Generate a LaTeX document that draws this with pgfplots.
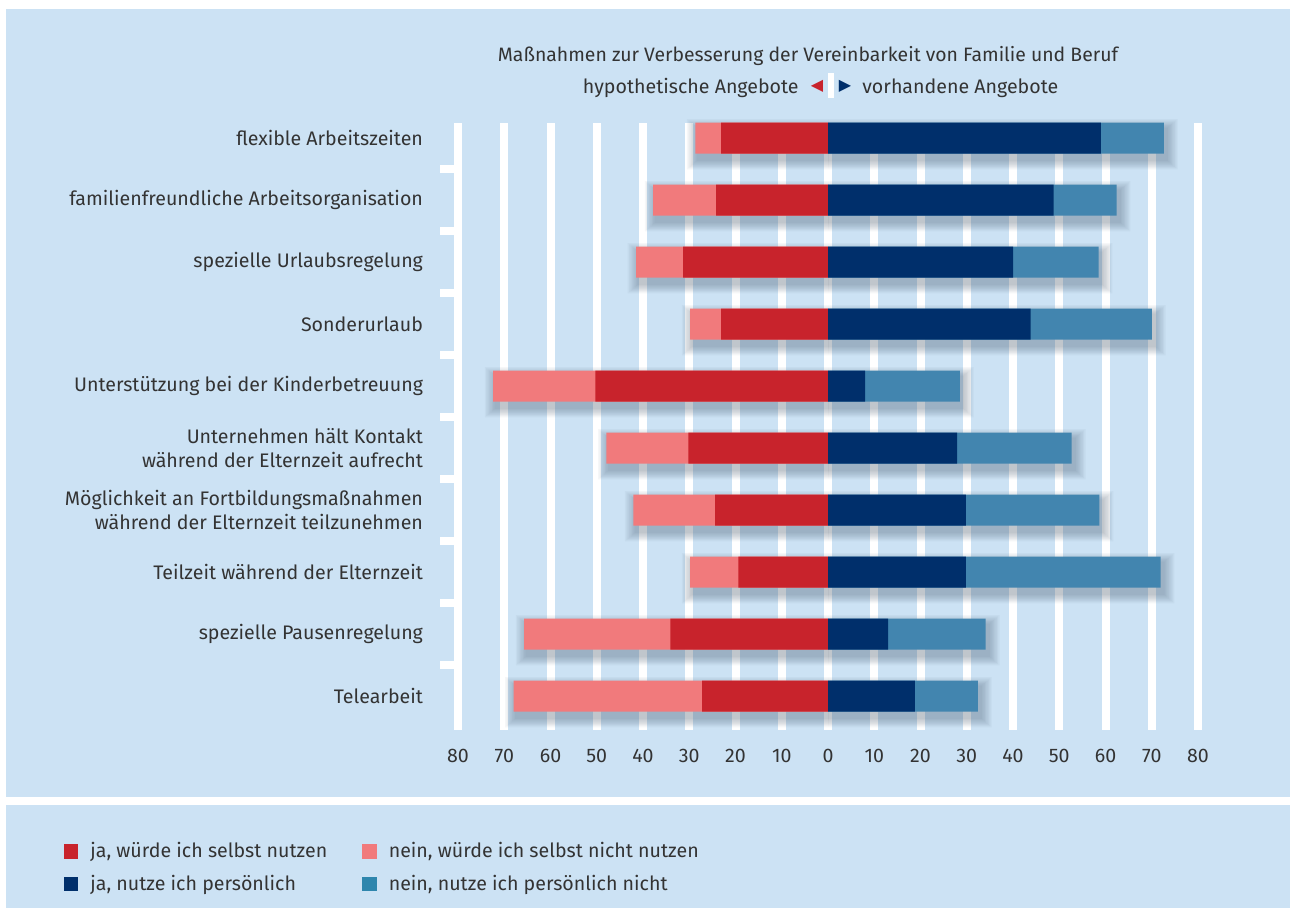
\documentclass[border=0pt]{standalone}
\usepackage{pgfplots}
\pgfplotsset{compat=1.18}
\usepackage{pgfplotstable}
\usepackage{fontspec}
\setmainfont{Fira Sans}
\newfontfamily\symfont{DejaVu Sans}
\definecolor{bg}{HTML}{CCE2F4}
\definecolor{cred}{HTML}{C8232C}
\definecolor{clred}{HTML}{F17A7C}
\definecolor{cdblue}{HTML}{002F6B}
\definecolor{clblue}{HTML}{4285AF}
\definecolor{clbleg}{HTML}{2E86AD}
\definecolor{txt}{HTML}{333333}
\definecolor{shad}{HTML}{34485E}
\newcommand{\fs}{\fontsize{9.8}{11.6}\selectfont}

\pgfplotstableread{
idx r lr d lb
0 23.1 5.6 59.0 13.6
1 24.2 13.6 48.8 13.6
2 31.3 10.2 40.0 18.5
3 23.1 6.7 43.8 26.2
4 50.3 22.1 8.0 20.5
5 30.2 17.7 27.9 24.8
6 24.4 17.7 29.8 28.9
7 19.4 10.4 29.8 42.1
8 34.1 31.6 13.0 21.1
9 27.2 40.8 18.8 13.6
}\datatable

\begin{document}
\begin{tikzpicture}
\fill[white] (0pt,0pt) rectangle (645pt,-459pt);
\fill[bg] (3pt,-4.5pt) rectangle (645pt,-398.5pt);
\fill[bg] (3pt,-402.5pt) rectangle (645pt,-454pt);
\node[anchor=base, inner sep=0pt, text=txt, font=\fontsize{9.7}{11.6}\selectfont] at (404pt,-30.5pt) {Maßnahmen zur Verbesserung der Vereinbarkeit von Familie und Beruf};
\node[anchor=base east, inner sep=0pt, text=txt, font=\fs] at (399.5pt,-46.5pt) {hypothetische Angebote};
\node[inner sep=0pt, text=cred, font=\symfont\fontsize{8}{8}\selectfont] at (408.5pt,-43pt) {◀};
\fill[white] (414pt,-36.5pt) rectangle (417pt,-49pt);
\node[inner sep=0pt, text=cdblue, font=\symfont\fontsize{8}{8}\selectfont] at (422.5pt,-43pt) {▶};
\node[anchor=base west, inner sep=0pt, text=txt, font=\fs] at (431pt,-46.5pt) {vorhandene Angebote};

\begin{axis}[
  at={(229pt,-365pt)}, anchor=south west,
  scale only axis, width=370pt, height=303.5pt,
  xmin=-80, xmax=80, ymin=-0.242, ymax=9.548, y dir=reverse,
  clip=false,
  xbar, bar width=15.5pt, bar shift=0pt,
  axis line style={draw=none},
  xtick={-80,-70,...,80},
  xticklabels={80,70,60,50,40,30,20,10,0,10,20,30,40,50,60,70,80},
  xtick pos=bottom, ytick pos=left,
  xmajorgrids, grid style={white, line width=4pt},
  xtick style={draw=none},
  ytick={0,...,9},
  minor ytick={0.5,1.5,...,8.5},
  yticklabels={{flexible Arbeitszeiten},{familienfreundliche Arbeitsorganisation},{spezielle Urlaubsregelung},{Sonderurlaub},{Unterstützung bei der Kinderbetreuung},{Unternehmen hält Kontakt\\während der Elternzeit aufrecht},{Möglichkeit an Fortbildungsmaßnahmen\\während der Elternzeit teilzunehmen},{Teilzeit während der Elternzeit},{spezielle Pausenregelung},{Telearbeit}},
  ytick style={draw=white, line width=4pt},
  tick align=outside,
  major tick length=0pt,
  minor tick length=9pt,
  tick label style={font=\fs, text=txt},
  yticklabel style={align=right, xshift=-14pt},
  xticklabel style={yshift=-6pt},
  legend image code/.code={\fill[#1] (0pt,-3.6pt) rectangle (7.2pt,3.6pt);},
  legend columns=2,
  legend style={at={(axis description cs:-0.533,-0.178)}, anchor=north west, draw=none, fill=none, font=\fs, text=txt, inner sep=0pt, row sep=3pt},
  legend cell align=left,
  sh/.style={fill=shad, fill opacity=0.042, draw=none, forget plot},
]
% soft shadows, built from the bar totals
\addplot[sh, bar width=16.7pt] table[x expr={\thisrow{d}+\thisrow{lb}+0.6+0.3}, y expr={\thisrow{idx}+0.1}] {\datatable};
\addplot[sh, bar width=16.7pt] table[x expr={-(\thisrow{r}+\thisrow{lr})+0.6-0.3}, y expr={\thisrow{idx}+0.1}] {\datatable};
\addplot[sh, bar width=17.9pt] table[x expr={\thisrow{d}+\thisrow{lb}+0.6+0.6}, y expr={\thisrow{idx}+0.1}] {\datatable};
\addplot[sh, bar width=17.9pt] table[x expr={-(\thisrow{r}+\thisrow{lr})+0.6-0.6}, y expr={\thisrow{idx}+0.1}] {\datatable};
\addplot[sh, bar width=19.1pt] table[x expr={\thisrow{d}+\thisrow{lb}+0.6+0.9}, y expr={\thisrow{idx}+0.1}] {\datatable};
\addplot[sh, bar width=19.1pt] table[x expr={-(\thisrow{r}+\thisrow{lr})+0.6-0.9}, y expr={\thisrow{idx}+0.1}] {\datatable};
\addplot[sh, bar width=20.3pt] table[x expr={\thisrow{d}+\thisrow{lb}+0.6+1.2}, y expr={\thisrow{idx}+0.1}] {\datatable};
\addplot[sh, bar width=20.3pt] table[x expr={-(\thisrow{r}+\thisrow{lr})+0.6-1.2}, y expr={\thisrow{idx}+0.1}] {\datatable};
\addplot[sh, bar width=21.5pt] table[x expr={\thisrow{d}+\thisrow{lb}+0.6+1.5}, y expr={\thisrow{idx}+0.1}] {\datatable};
\addplot[sh, bar width=21.5pt] table[x expr={-(\thisrow{r}+\thisrow{lr})+0.6-1.5}, y expr={\thisrow{idx}+0.1}] {\datatable};
\addplot[sh, bar width=22.7pt] table[x expr={\thisrow{d}+\thisrow{lb}+0.6+1.8}, y expr={\thisrow{idx}+0.1}] {\datatable};
\addplot[sh, bar width=22.7pt] table[x expr={-(\thisrow{r}+\thisrow{lr})+0.6-1.8}, y expr={\thisrow{idx}+0.1}] {\datatable};
\addplot[sh, bar width=23.9pt] table[x expr={\thisrow{d}+\thisrow{lb}+0.6+2.1}, y expr={\thisrow{idx}+0.1}] {\datatable};
\addplot[sh, bar width=23.9pt] table[x expr={-(\thisrow{r}+\thisrow{lr})+0.6-2.1}, y expr={\thisrow{idx}+0.1}] {\datatable};
\addplot[sh, bar width=25.1pt] table[x expr={\thisrow{d}+\thisrow{lb}+0.6+2.4}, y expr={\thisrow{idx}+0.1}] {\datatable};
\addplot[sh, bar width=25.1pt] table[x expr={-(\thisrow{r}+\thisrow{lr})+0.6-2.4}, y expr={\thisrow{idx}+0.1}] {\datatable};
% bars
\addplot[fill=clred, draw=none, forget plot] table[x expr={-(\thisrow{r}+\thisrow{lr})}, y=idx] {\datatable};
\addplot[fill=clblue, draw=none, forget plot] table[x expr={\thisrow{d}+\thisrow{lb}}, y=idx] {\datatable};
\addplot[fill=cred, draw=none, forget plot] table[x expr={-\thisrow{r}}, y=idx] {\datatable};
\addplot[fill=cdblue, draw=none, forget plot] table[x=d, y=idx] {\datatable};
\addlegendimage{fill=cred, draw=none}
\addlegendentry{\hspace{4pt}\makebox[134pt][l]{ja, würde ich selbst nutzen}}
\addlegendimage{fill=clred, draw=none}
\addlegendentry{\hspace{4pt}nein, würde ich selbst nicht nutzen}
\addlegendimage{fill=cdblue, draw=none}
\addlegendentry{\hspace{4pt}\makebox[134pt][l]{ja, nutze ich persönlich}}
\addlegendimage{fill=clbleg, draw=none}
\addlegendentry{\hspace{4pt}nein, nutze ich persönlich nicht}
\end{axis}
\end{tikzpicture}
\end{document}
